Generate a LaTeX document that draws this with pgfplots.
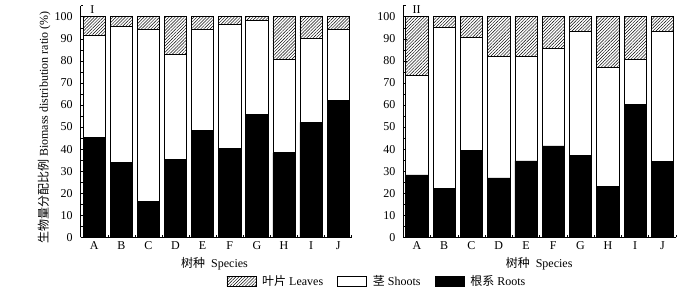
\documentclass[border=0pt]{standalone}
\usepackage{fontspec}
\setmainfont{Liberation Serif}
\newfontfamily\cjk{Noto Sans CJK SC}
\usepackage{pgfplots}
\pgfplotsset{compat=1.18}
\usepackage{pgfplotstable}
\usetikzlibrary{patterns.meta}

\pgfplotstableread{
x root shoot leaf
0 45.2 46.3 8.5
1 33.8 61.8 4.4
2 16.1 78.0 5.9
3 35.2 47.9 16.9
4 48.3 46.0 5.7
5 40.2 56.2 3.6
6 55.7 42.5 1.8
7 38.3 42.5 19.2
8 52.1 38.2 9.7
9 62.1 32.2 5.7
}\dataI

\pgfplotstableread{
x root shoot leaf
0 28.3 45.0 26.7
1 22.3 72.7 5.0
2 39.2 51.3 9.5
3 26.9 55.0 18.1
4 34.6 47.3 18.1
5 41.4 44.1 14.5
6 37.1 56.3 6.6
7 22.9 54.0 23.1
8 60.1 20.6 19.3
9 34.3 59.1 6.6
}\dataII

\pgfplotsset{
  panel/.style={
    scale only axis, height=231.6pt,
    ybar stacked, bar width=22.2pt,
    ymin=0, ymax=105, xmin=-0.5, xmax=9.5,
    axis lines=left, axis line style={-, black, line width=0.6pt},
    xtick={0,...,9}, xticklabels={A,B,C,D,E,F,G,H,I,J},
    major x tick style={draw=none},
    minor xtick={-0.5,0.5,...,9.5},
    ytick={0,10,...,100}, minor ytick={5,15,...,105},
    tick align=inside,
    major tick length=4pt, minor tick length=2.5pt,
    tick style={black, line width=0.5pt},
    /pgf/number format/assume math mode=true,
    yticklabel style={xshift=-4.5pt},
    xticklabel style={yshift=-1pt},
    xlabel={{\cjk 树种}\ \ Species},
    legend image code/.code={\draw[#1] (0pt,-5pt) rectangle (29pt,5pt);},
  },
  rootsty/.style={fill=black, draw=black, line width=0.7pt},
  shootsty/.style={fill=white, draw=black, line width=0.7pt},
  leafsty/.style={draw=black, line width=0.7pt, pattern={Lines[angle=45,distance=2.2pt,line width=0.45pt]}},
}

\begin{document}
\begin{tikzpicture}[font=\fontsize{12}{14}\selectfont]
\path[use as bounding box] (0,0) rectangle (695pt,295pt);
\begin{axis}[panel, width=271pt, at={(80.7pt,57.7pt)}, anchor=south west,
  ylabel={{\cjk 生物量分配比例} Biomass distribution ratio (\%)},
  ylabel style={at={(axis description cs:-0.135,0.474)}, anchor=center},
  xlabel style={at={(axis description cs:0.494,-0.115)}, anchor=center},
  legend columns=3, reverse legend,
  legend style={at={(axis description cs:1.093,-0.189)}, anchor=center, draw=none, fill=none,
    /tikz/every odd column/.append style={column sep=4pt},
    /tikz/every even column/.append style={column sep=12pt}},
]
\addplot[rootsty] table[x=x,y=root]{\dataI};
\addlegendentry{{\cjk 根系} Roots}
\addplot[shootsty] table[x=x,y=shoot]{\dataI};
\addlegendentry{{\cjk 茎} Shoots}
\addplot[leafsty] table[x=x,y=leaf]{\dataI};
\addlegendentry{{\cjk 叶片} Leaves}
\node at (axis description cs:0.043,0.985) {I};
\end{axis}
\begin{axis}[panel, width=272.7pt, at={(403.3pt,57.7pt)}, anchor=south west,
  xlabel style={at={(axis description cs:0.498,-0.115)}, anchor=center},
]
\addplot[rootsty] table[x=x,y=root]{\dataII};
\addplot[shootsty] table[x=x,y=shoot]{\dataII};
\addplot[leafsty] table[x=x,y=leaf]{\dataII};
\node at (axis description cs:0.049,0.985) {II};
\end{axis}
\end{tikzpicture}
\end{document}
